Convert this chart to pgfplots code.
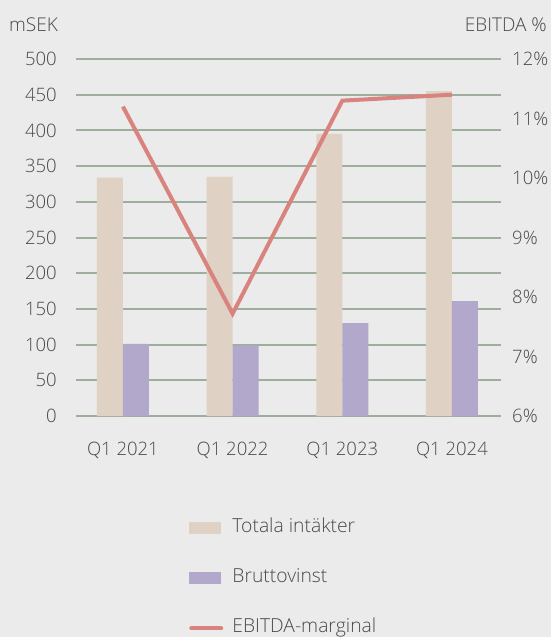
\documentclass[border=0pt]{standalone}
\usepackage{pgfplots}
\pgfplotsset{compat=1.18}
\usepackage{fontspec}
\setmainfont{Open Sans Light}
\definecolor{bg}{HTML}{EBEBEB}
\definecolor{txt}{HTML}{4A4A4A}
\definecolor{gridc}{HTML}{9DAE9C}
\definecolor{tot}{HTML}{DFD1C3}
\definecolor{brut}{HTML}{B2A8CB}
\definecolor{ebit}{HTML}{D9837F}
\begin{document}
\begin{tikzpicture}[font=\fontsize{19}{22}\selectfont]
\path[use as bounding box] (-76pt,-221pt) rectangle (475pt,416pt);
\fill[bg] (-76pt,-221pt) rectangle (475pt,416pt);
\begin{axis}[
  scale only axis, width=425pt, height=357pt,
  at={(0,0)}, anchor=south west,
  xmin=-0.428, xmax=3.447, ymin=0, ymax=500,
  ybar=0pt, bar width=26pt,
  xtick={0,1,2,3}, xticklabels={Q1 2021,Q1 2022,Q1 2023,Q1 2024},
  ytick={0,50,...,500},
  ymajorgrids, grid style={gridc, line width=2pt},
  axis line style={draw=none}, major tick length=0pt,
  /pgf/number format/assume math mode=true,
  tick label style={text=txt, font=\fontsize{18.5}{22}\selectfont},
  yticklabel style={anchor=east, inner sep=0pt, xshift=-19pt},
  xticklabel style={anchor=north, inner sep=0pt, yshift=-26pt},
  legend style={at={(rel axis cs:0.266,-0.292)}, anchor=north west,
    draw=none, fill=none, inner sep=0pt, row sep=34pt, column sep=0pt,
    nodes={inner sep=0pt, text height=12pt, text depth=4pt, text=txt},
    font=\fontsize{19.3}{22}\selectfont},
  legend cell align=left,
]
\addplot[fill=tot, draw=none, legend image code/.code={\fill[tot] (0pt,-6pt) rectangle (32pt,6pt); \path (43pt,0pt);}]
  coordinates {(0,334) (1,335) (2,395) (3,455)};
\addlegendentry{Totala intäkter}
\addplot[fill=brut, draw=none, legend image code/.code={\fill[brut] (0pt,-6pt) rectangle (32pt,6pt); \path (43pt,0pt);}]
  coordinates {(0,101) (1,99) (2,130) (3,161)};
\addlegendentry{Bruttovinst}
\addlegendimage{legend image code/.code={\draw[ebit, line width=4pt, line cap=round] (2pt,0pt) -- (32pt,0pt); \path (43pt,0pt);}}
\addlegendentry{EBITDA-marginal}
\end{axis}
\begin{axis}[
  scale only axis, width=425pt, height=357pt,
  at={(0,0)}, anchor=south west,
  xmin=-0.428, xmax=3.447, ymin=6, ymax=12,
  hide x axis, axis y line*=right,
  axis line style={draw=none}, major tick length=0pt,
  /pgf/number format/assume math mode=true,
  ytick={6,7,...,12},
  yticklabel={\pgfmathprintnumber{\tick}\%},
  tick label style={text=txt, font=\fontsize{18.5}{22}\selectfont},
  yticklabel style={anchor=west, inner sep=0pt, xshift=11pt},
]
\addplot[ebit, line width=4pt, mark=none] coordinates {(0,11.2) (1,7.72) (2,11.3) (3,11.4)};
\end{axis}
\node[anchor=east, inner sep=0pt, text=txt] at (-18pt,391.5pt) {mSEK};
\node[anchor=east, inner sep=0pt, text=txt] at (471pt,391.5pt) {EBITDA \%};
\end{tikzpicture}
\end{document}
